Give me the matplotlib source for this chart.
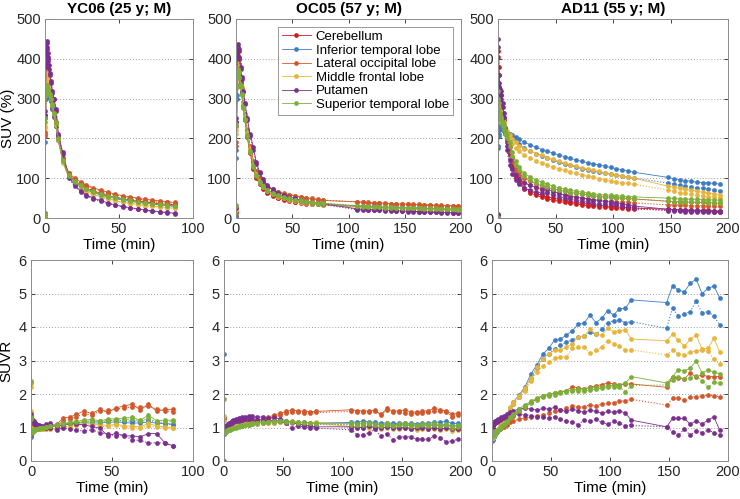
import matplotlib
matplotlib.use("Agg")
import matplotlib.pyplot as plt

plt.rcParams['font.family'] = ['Liberation Sans', 'DejaVu Sans']
plt.rcParams['font.size'] = 10

# regions, colours (matlab-ish palette)
REGIONS = ["Cerebellum", "Inferior temporal lobe", "Lateral occipital lobe",
           "Middle frontal lobe", "Putamen", "Superior temporal lobe"]
COLORS = ["#D01A1A", "#3E7CC4", "#D4572A", "#E8B53A", "#7B2F8E", "#7DAE3A"]

TITLES = ["YC06 (25 y; M)", "OC05 (57 y; M)", "AD11 (55 y; M)"]

# ---------------- YC06 ----------------
T_YC = [0.1, 0.3, 0.6, 0.9, 1.2, 1.5, 1.8, 2.2, 2.7, 3.3, 4.0, 5.0, 6.0, 7.5, 9, 12, 16, 20, 24, 28,
        32.5, 37.5, 42.5, 47.5, 52.5, 57.5, 62.5, 67.5, 72.5, 77.5, 82.5, 87.5]

SUV_YC = {
    "Cerebellum": (
        [6, 250, 340, 365, 355, 345, 335, 325, 315, 305, 295, 275, 255, 230, 195, 145, 108, 92, 82, 74, 67, 61, 56, 52, 48, 45, 42, 40, 38, 36, 34, 33],
        [8, 260, 350, 370, 360, 348, 338, 328, 318, 308, 298, 278, 258, 232, 197, 147, 110, 94, 84, 76, 69, 63, 58, 53, 50, 47, 44, 41, 39, 37, 35, 34]),
    "Inferior temporal lobe": (
        [4, 190, 300, 340, 345, 338, 330, 322, 314, 305, 295, 276, 257, 232, 197, 146, 108, 90, 80, 71, 64, 58, 53, 49, 45, 42, 39, 37, 35, 33, 31, 30],
        [5, 210, 310, 345, 348, 340, 332, 324, 315, 306, 296, 277, 258, 233, 198, 147, 109, 91, 81, 72, 65, 59, 54, 50, 46, 43, 40, 38, 36, 34, 32, 31]),
    "Lateral occipital lobe": (
        [5, 205, 320, 360, 365, 355, 345, 335, 325, 315, 303, 284, 265, 240, 205, 152, 114, 100, 91, 83, 76, 70, 65, 60, 56, 53, 50, 47, 45, 43, 41, 39],
        [6, 215, 330, 365, 368, 358, 348, 338, 328, 318, 306, 286, 267, 242, 207, 150, 112, 98, 89, 81, 74, 68, 63, 58, 54, 51, 48, 45, 43, 41, 39, 37]),
    "Middle frontal lobe": (
        [7, 225, 345, 375, 380, 368, 355, 342, 330, 318, 305, 285, 263, 236, 198, 140, 104, 88, 77, 68, 60, 54, 49, 44, 40, 37, 34, 32, 30, 28, 26, 25],
        [8, 230, 350, 380, 378, 366, 353, 340, 328, 316, 303, 283, 261, 234, 196, 138, 102, 86, 75, 66, 58, 52, 47, 43, 39, 36, 33, 31, 29, 27, 25, 24]),
    "Putamen": (
        [10, 260, 380, 420, 445, 430, 415, 400, 385, 365, 345, 320, 300, 275, 210, 165, 105, 82, 68, 58, 50, 44, 38, 33, 29, 26, 23, 20, 18, 16, 14, 12],
        [12, 270, 390, 410, 440, 425, 405, 395, 375, 360, 340, 315, 300, 270, 205, 160, 100, 80, 66, 56, 48, 42, 36, 32, 28, 25, 22, 19, 17, 15, 13, 11]),
    "Superior temporal lobe": (
        [10, 240, 310, 330, 335, 330, 325, 320, 315, 312, 300, 285, 265, 240, 200, 145, 108, 92, 82, 74, 67, 61, 56, 52, 48, 44, 41, 38, 36, 34, 32, 30],
        [11, 250, 320, 335, 332, 328, 323, 318, 313, 310, 298, 282, 262, 238, 198, 143, 106, 90, 80, 72, 65, 59, 54, 50, 46, 43, 40, 37, 35, 33, 31, 29]),
}

SUVR_YC = {
    "Inferior temporal lobe": (
        [0.72, 0.76, 0.88, 0.93, 0.97, 0.98, 0.99, 0.99, 1.0, 1.0, 1.0, 1.0, 1.01, 1.01, 1.01, 1.02, 1.05, 1.08, 1.10, 1.12, 1.15, 1.13, 1.14, 1.15, 1.17, 1.15, 1.13, 1.14, 1.16, 1.13, 1.12, 1.10],
        [0.78, 0.80, 0.89, 0.94, 0.96, 0.97, 0.98, 0.99, 0.99, 1.0, 1.0, 1.0, 1.0, 1.01, 1.02, 1.03, 1.06, 1.09, 1.12, 1.14, 1.17, 1.20, 1.18, 1.21, 1.22, 1.19, 1.20, 1.18, 1.22, 1.17, 1.10, 1.08]),
    "Lateral occipital lobe": (
        [0.85, 0.82, 0.94, 0.98, 1.02, 1.03, 1.03, 1.03, 1.03, 1.03, 1.03, 1.03, 1.04, 1.04, 1.05, 1.04, 1.10, 1.29, 1.31, 1.39, 1.49, 1.42, 1.54, 1.45, 1.59, 1.64, 1.70, 1.52, 1.70, 1.48, 1.54, 1.54],
        [0.88, 0.84, 0.95, 0.99, 1.01, 1.02, 1.02, 1.02, 1.02, 1.02, 1.02, 1.02, 1.03, 1.03, 1.04, 1.03, 1.06, 1.20, 1.25, 1.32, 1.40, 1.38, 1.48, 1.52, 1.55, 1.58, 1.62, 1.60, 1.64, 1.55, 1.50, 1.47]),
    "Middle frontal lobe": (
        [2.2, 1.45, 1.05, 1.0, 1.0, 1.0, 0.99, 0.99, 0.98, 0.98, 0.98, 0.98, 0.97, 0.97, 0.97, 0.96, 0.98, 1.02, 1.05, 1.08, 1.12, 1.10, 1.08, 1.06, 1.10, 1.05, 1.04, 1.02, 1.12, 1.05, 1.02, 1.00],
        [2.3, 1.5, 1.08, 1.01, 1.0, 0.99, 0.99, 0.98, 0.98, 0.97, 0.97, 0.97, 0.96, 0.96, 0.96, 0.95, 0.97, 1.00, 1.03, 1.06, 1.09, 1.07, 1.04, 1.03, 1.06, 1.01, 1.00, 0.99, 1.05, 1.01, 0.99, 0.98]),
    "Putamen": (
        [1.40, 1.32, 1.25, 1.18, 1.20, 1.15, 1.18, 1.14, 1.12, 1.10, 1.08, 1.06, 1.05, 1.02, 1.10, 1.12, 1.02, 1.08, 1.12, 1.10, 1.08, 1.03, 0.98, 0.75, 0.83, 0.75, 0.75, 0.72, 0.82, 0.82, 0.55, 0.45],
        [1.35, 1.30, 1.20, 1.15, 1.12, 1.18, 1.10, 1.12, 1.08, 1.06, 1.05, 1.03, 1.02, 1.00, 1.00, 0.98, 0.92, 1.00, 0.95, 0.92, 0.90, 0.93, 0.85, 0.80, 0.75, 0.78, 0.62, 0.62, 0.53, 0.55, 0.53, 0.45]),
    "Superior temporal lobe": (
        [2.4, 1.3, 0.90, 0.88, 0.90, 0.92, 0.93, 0.94, 0.95, 0.96, 0.97, 0.98, 0.99, 1.0, 1.02, 1.04, 1.08, 1.12, 1.15, 1.18, 1.22, 1.24, 1.20, 1.25, 1.26, 1.28, 1.30, 1.22, 1.37, 1.20, 1.22, 1.22],
        [2.35, 1.25, 0.88, 0.86, 0.88, 0.90, 0.92, 0.93, 0.94, 0.95, 0.96, 0.97, 0.98, 0.99, 1.01, 1.03, 1.06, 1.10, 1.12, 1.15, 1.18, 1.20, 1.17, 1.20, 1.22, 1.23, 1.25, 1.18, 1.28, 1.15, 1.16, 1.18]),
}

# ---------------- OC05 ----------------
T_OC = [0.1, 0.4, 0.8, 1.2, 1.7, 2.3, 3.0, 4.0, 5.0, 6.5, 8, 10, 12.5, 15.5, 18, 21, 24, 27.5,
        32.5, 37.5, 42.5, 47.5, 52.5, 57.5, 62.5, 67.5, 72.5, 77.5,
        107.5, 112.5, 117.5, 122.5, 127.5, 132.5, 137.5, 142.5, 147.5, 152.5, 157.5, 162.5,
        167.5, 172.5, 177.5, 182.5, 187.5, 192.5, 197.5]

SUV_OC = {
    "Cerebellum": (
        [15, 230, 350, 390, 400, 388, 372, 345, 318, 280, 248, 205, 165, 126, 103, 87, 75, 66, 57, 51, 47, 44, 41, 39, 37, 36, 35, 34, 29, 28, 28, 27, 27, 26, 26, 25, 25, 24, 24, 23, 23, 23, 22, 22, 21, 21, 20],
        [18, 240, 355, 392, 398, 385, 368, 342, 315, 278, 246, 203, 163, 124, 101, 85, 73, 64, 55, 49, 45, 42, 40, 38, 36, 35, 34, 33, 28, 27, 27, 26, 26, 25, 25, 24, 24, 23, 23, 22, 22, 22, 21, 21, 20, 20, 19]),
    "Inferior temporal lobe": (
        [5, 150, 300, 360, 380, 375, 362, 340, 318, 284, 254, 214, 174, 134, 111, 94, 82, 72, 63, 57, 52, 48, 45, 42, 40, 38, 36, 35, 30, 29, 29, 28, 28, 27, 27, 26, 26, 25, 25, 24, 24, 24, 23, 23, 22, 22, 22],
        [6, 170, 310, 365, 383, 378, 364, 342, 320, 286, 256, 216, 176, 136, 113, 96, 84, 74, 65, 59, 54, 50, 47, 44, 42, 40, 38, 37, 31, 30, 30, 29, 29, 28, 28, 27, 27, 26, 26, 25, 25, 25, 24, 24, 23, 23, 23]),
    "Lateral occipital lobe": (
        [12, 180, 330, 380, 392, 385, 370, 348, 325, 290, 260, 220, 180, 140, 117, 100, 88, 79, 71, 65, 61, 58, 55, 52, 50, 48, 46, 44, 41, 40, 39, 38, 38, 37, 36, 36, 35, 35, 34, 34, 33, 33, 32, 32, 31, 31, 30],
        [14, 190, 335, 383, 395, 387, 372, 350, 327, 292, 262, 222, 182, 142, 118, 101, 89, 80, 72, 66, 62, 59, 56, 53, 51, 49, 47, 45, 40, 39, 38, 37, 37, 36, 35, 35, 34, 34, 33, 33, 32, 32, 31, 31, 30, 30, 29]),
    "Middle frontal lobe": (
        [20, 210, 350, 395, 410, 400, 382, 355, 328, 290, 258, 216, 175, 134, 110, 93, 81, 71, 62, 56, 51, 47, 44, 41, 39, 37, 35, 34, 28, 27, 27, 26, 26, 25, 25, 24, 24, 23, 23, 22, 22, 22, 21, 21, 20, 20, 20],
        [22, 220, 355, 398, 408, 398, 380, 352, 325, 288, 256, 214, 173, 132, 108, 91, 79, 69, 60, 54, 49, 45, 42, 40, 38, 36, 34, 33, 27, 26, 26, 25, 25, 24, 24, 23, 23, 22, 22, 21, 21, 21, 20, 20, 19, 19, 19]),
    "Putamen": (
        [25, 240, 370, 415, 438, 425, 405, 380, 355, 320, 290, 250, 210, 178, 140, 115, 97, 84, 72, 64, 58, 53, 49, 45, 42, 40, 38, 36, 23, 22, 21, 21, 20, 20, 19, 18, 18, 17, 17, 16, 16, 15, 15, 14, 14, 13, 13],
        [28, 250, 375, 410, 430, 420, 400, 375, 350, 316, 286, 246, 205, 172, 136, 112, 94, 81, 69, 61, 55, 50, 46, 43, 40, 38, 36, 34, 21, 20, 20, 19, 19, 18, 18, 17, 17, 16, 16, 15, 15, 14, 14, 13, 13, 12, 12]),
    "Superior temporal lobe": (
        [30, 230, 330, 365, 375, 368, 355, 335, 312, 278, 248, 208, 168, 130, 107, 91, 80, 71, 63, 57, 53, 49, 46, 44, 42, 40, 38, 37, 30, 29, 29, 28, 28, 27, 27, 26, 26, 25, 25, 25, 24, 24, 24, 23, 23, 23, 22],
        [32, 235, 335, 368, 373, 366, 352, 332, 310, 276, 246, 206, 166, 128, 105, 89, 78, 69, 61, 55, 51, 47, 44, 42, 40, 38, 36, 35, 29, 28, 28, 27, 27, 26, 26, 25, 25, 24, 24, 24, 23, 23, 23, 22, 22, 22, 21]),
}

SUVR_OC = {
    "Inferior temporal lobe": (
        [3.2, 0.8, 0.86, 0.90, 0.93, 0.95, 0.96, 0.97, 0.98, 0.99, 1.0, 1.02, 1.04, 1.06, 1.08, 1.10, 1.12, 1.13, 1.15, 1.16, 1.17, 1.18, 1.18, 1.17, 1.16, 1.15, 1.14, 1.13, 1.15, 1.16, 1.18, 1.17, 1.15, 1.12, 1.14, 1.12, 1.12, 1.13, 1.12, 1.11, 1.12, 1.13, 1.15, 1.16, 1.18, 1.12, 1.12],
        [1.3, 0.82, 0.87, 0.91, 0.93, 0.95, 0.96, 0.97, 0.98, 0.99, 1.0, 1.01, 1.03, 1.05, 1.07, 1.08, 1.10, 1.11, 1.12, 1.13, 1.14, 1.15, 1.15, 1.14, 1.13, 1.12, 1.11, 1.10, 1.08, 1.10, 1.09, 1.08, 1.10, 1.07, 1.08, 1.06, 1.07, 1.08, 1.06, 1.05, 1.07, 1.06, 1.08, 1.05, 1.06, 1.04, 1.05]),
    "Lateral occipital lobe": (
        [1.3, 0.85, 0.9, 0.93, 0.95, 0.97, 0.98, 1.0, 1.01, 1.03, 1.05, 1.08, 1.10, 1.12, 1.15, 1.18, 1.20, 1.22, 1.25, 1.30, 1.38, 1.42, 1.48, 1.52, 1.50, 1.48, 1.47, 1.48, 1.53, 1.50, 1.50, 1.48, 1.52, 1.37, 1.58, 1.48, 1.50, 1.52, 1.47, 1.45, 1.48, 1.50, 1.58, 1.52, 1.50, 1.40, 1.42],
        [1.25, 0.88, 0.92, 0.94, 0.96, 0.97, 0.98, 0.99, 1.0, 1.02, 1.04, 1.06, 1.08, 1.10, 1.12, 1.14, 1.16, 1.18, 1.20, 1.25, 1.32, 1.38, 1.42, 1.45, 1.46, 1.44, 1.43, 1.45, 1.48, 1.46, 1.47, 1.45, 1.48, 1.40, 1.52, 1.45, 1.46, 1.42, 1.40, 1.42, 1.44, 1.45, 1.50, 1.48, 1.45, 1.32, 1.36]),
    "Middle frontal lobe": (
        [1.35, 0.9, 0.92, 0.94, 0.95, 0.96, 0.97, 0.98, 0.99, 1.0, 1.02, 1.05, 1.07, 1.08, 1.10, 1.11, 1.12, 1.13, 1.14, 1.15, 1.16, 1.18, 1.17, 1.16, 1.15, 1.14, 1.13, 1.15, 1.02, 1.03, 1.05, 1.02, 1.04, 1.0, 1.02, 0.98, 1.0, 1.02, 0.98, 0.97, 1.0, 0.98, 1.0, 0.97, 0.98, 0.92, 0.95],
        [1.2, 0.88, 0.90, 0.92, 0.94, 0.95, 0.96, 0.97, 0.98, 0.99, 1.0, 1.02, 1.04, 1.06, 1.08, 1.09, 1.10, 1.11, 1.12, 1.13, 1.14, 1.15, 1.14, 1.13, 1.12, 1.11, 1.10, 1.12, 0.98, 0.99, 1.0, 0.98, 1.0, 0.96, 0.98, 0.95, 0.97, 0.98, 0.95, 0.94, 0.96, 0.95, 0.97, 0.94, 0.95, 0.90, 0.92]),
    "Putamen": (
        [0.0, 1.05, 1.0, 1.02, 1.05, 1.08, 1.10, 1.12, 1.14, 1.18, 1.22, 1.25, 1.28, 1.30, 1.32, 1.34, 1.33, 1.30, 1.32, 1.28, 1.30, 1.25, 1.20, 1.15, 1.10, 1.08, 1.05, 1.02, 1.02, 1.0, 1.0, 1.03, 1.0, 0.98, 1.02, 1.0, 0.98, 1.0, 0.97, 0.98, 1.0, 0.97, 0.99, 0.96, 0.98, 0.95, 0.96],
        [0.9, 1.0, 0.98, 1.0, 1.02, 1.04, 1.06, 1.08, 1.10, 1.12, 1.15, 1.18, 1.20, 1.22, 1.24, 1.25, 1.24, 1.22, 1.23, 1.20, 1.22, 1.18, 1.12, 0.98, 1.05, 1.02, 1.0, 0.98, 0.93, 0.78, 0.78, 0.85, 0.95, 0.74, 0.82, 0.63, 0.72, 0.72, 0.72, 0.65, 0.65, 0.65, 0.75, 0.70, 0.57, 0.60, 0.65]),
    "Superior temporal lobe": (
        [1.85, 0.85, 0.86, 0.88, 0.90, 0.92, 0.94, 0.95, 0.96, 0.98, 1.0, 1.02, 1.04, 1.06, 1.08, 1.10, 1.12, 1.14, 1.15, 1.17, 1.18, 1.20, 1.19, 1.18, 1.16, 1.15, 1.14, 1.13, 1.12, 1.10, 1.12, 1.14, 1.10, 1.08, 1.12, 1.08, 1.10, 1.12, 1.09, 1.08, 1.10, 1.09, 1.12, 1.08, 1.10, 1.05, 1.06],
        [8.0, 0.82, 0.84, 0.86, 0.88, 0.90, 0.92, 0.93, 0.94, 0.96, 0.98, 1.0, 1.02, 1.04, 1.06, 1.08, 1.10, 1.12, 1.13, 1.15, 1.16, 1.18, 1.17, 1.16, 1.14, 1.13, 1.12, 1.11, 1.08, 1.06, 1.08, 1.10, 1.06, 1.04, 1.08, 1.04, 1.06, 1.08, 1.05, 1.04, 1.06, 1.05, 1.08, 1.04, 1.06, 1.0, 1.02]),
}

# ---------------- AD11 ----------------
T_AD = [0.1, 0.4, 0.8, 1.2, 1.7, 2.3, 3.0, 4.0, 5.0, 6.5, 8, 10, 12.5, 15.5, 18, 23, 28, 33, 38,
        43, 48, 53, 58, 63, 68, 73, 78, 83, 88, 93, 98, 103, 108, 113, 118,
        148, 153, 158, 163, 168, 173, 178, 183, 188, 193]

SUV_AD = {
    "Cerebellum": (
        [5, 420, 380, 330, 300, 290, 280, 265, 250, 225, 195, 165, 130, 105, 92, 76, 68, 62, 57, 53, 50, 47, 44, 41, 39, 37, 35, 33, 32, 30, 29, 28, 27, 26, 25, 22, 21, 21, 20, 20, 19, 19, 19, 18, 18],
        [6, 405, 360, 320, 295, 285, 275, 260, 245, 220, 190, 160, 125, 100, 88, 72, 63, 57, 52, 48, 45, 42, 39, 37, 35, 33, 31, 30, 28, 27, 26, 25, 24, 23, 22, 20, 19, 19, 18, 18, 17, 17, 17, 16, 16]),
    "Inferior temporal lobe": (
        [3, 180, 210, 225, 232, 230, 228, 225, 222, 218, 215, 212, 208, 203, 198, 190, 184, 178, 172, 168, 163, 158, 154, 150, 146, 142, 139, 136, 133, 130, 127, 124, 121, 118, 115, 102, 99, 96, 94, 92, 90, 89, 88, 87, 85],
        [4, 175, 205, 220, 228, 226, 224, 221, 218, 214, 210, 206, 200, 193, 186, 176, 168, 161, 155, 150, 145, 140, 136, 132, 128, 124, 121, 118, 115, 112, 110, 107, 105, 102, 100, 88, 85, 82, 80, 78, 76, 75, 73, 71, 69]),
    "Lateral occipital lobe": (
        [5, 300, 290, 280, 270, 262, 255, 245, 235, 220, 200, 178, 150, 128, 115, 100, 92, 86, 81, 77, 73, 70, 67, 64, 62, 60, 58, 56, 54, 53, 52, 51, 50, 49, 48, 42, 41, 41, 40, 40, 39, 39, 38, 38, 37],
        [6, 290, 280, 270, 262, 255, 248, 238, 228, 212, 192, 168, 140, 118, 105, 90, 82, 76, 71, 67, 63, 60, 57, 54, 52, 50, 48, 46, 44, 43, 42, 41, 40, 39, 38, 33, 33, 32, 32, 31, 31, 31, 30, 30, 30]),
    "Middle frontal lobe": (
        [4, 250, 270, 280, 275, 268, 260, 250, 240, 228, 218, 208, 198, 190, 182, 174, 168, 162, 158, 152, 147, 142, 138, 134, 130, 126, 123, 120, 117, 114, 111, 108, 105, 102, 100, 80, 77, 75, 72, 70, 67, 65, 63, 61, 59],
        [5, 245, 262, 272, 268, 262, 254, 244, 234, 222, 210, 198, 185, 175, 168, 158, 150, 144, 138, 133, 128, 124, 120, 116, 112, 108, 105, 102, 99, 96, 94, 91, 89, 87, 85, 70, 67, 64, 62, 60, 58, 56, 54, 52, 50]),
    "Putamen": (
        [8, 450, 360, 330, 325, 320, 310, 290, 265, 225, 180, 145, 122, 108, 98, 88, 82, 77, 74, 72, 67, 62, 58, 55, 52, 50, 48, 46, 44, 42, 40, 38, 36, 33, 30, 22, 21, 20, 20, 19, 19, 18, 18, 17, 17],
        [10, 430, 340, 320, 315, 310, 300, 280, 255, 215, 170, 132, 110, 96, 86, 76, 70, 66, 63, 62, 58, 54, 50, 47, 45, 42, 40, 38, 36, 35, 34, 32, 30, 28, 26, 18, 17, 17, 16, 16, 15, 15, 15, 14, 14]),
    "Superior temporal lobe": (
        [0, 320, 290, 275, 265, 255, 248, 240, 232, 222, 210, 192, 165, 142, 128, 112, 103, 96, 90, 85, 80, 76, 73, 70, 67, 65, 63, 61, 59, 58, 57, 56, 55, 54, 53, 50, 49, 48, 48, 47, 47, 46, 46, 45, 45],
        [0, 300, 275, 262, 252, 245, 238, 230, 222, 212, 200, 182, 155, 134, 120, 105, 96, 89, 83, 78, 74, 70, 67, 64, 62, 60, 58, 56, 54, 53, 52, 51, 50, 49, 48, 42, 41, 41, 40, 40, 39, 39, 38, 38, 37]),
}

SUVR_AD = {
    "Inferior temporal lobe": (
        [0.95, 0.62, 0.65, 0.70, 0.75, 0.80, 0.85, 0.90, 0.95, 1.02, 1.10, 1.22, 1.38, 1.58, 1.76, 1.97, 2.22, 2.60, 2.87, 3.19, 3.36, 3.61, 3.64, 3.76, 3.89, 4.08, 4.11, 4.36, 4.13, 4.26, 4.49, 4.36, 4.54, 4.56, 4.81, 4.73, 5.23, 5.10, 5.05, 5.30, 5.43, 5.00, 5.15, 5.22, 4.87],
        [0.90, 0.60, 0.63, 0.68, 0.73, 0.78, 0.83, 0.88, 0.93, 1.0, 1.08, 1.18, 1.33, 1.52, 1.70, 1.92, 2.15, 2.48, 2.78, 3.05, 3.20, 3.35, 3.45, 3.55, 3.62, 3.70, 3.72, 3.85, 3.78, 3.95, 4.13, 4.19, 4.21, 4.13, 4.16, 3.96, 4.56, 4.33, 4.39, 4.46, 4.78, 4.42, 4.46, 4.33, 4.06]),
    "Lateral occipital lobe": (
        [0.85, 0.80, 0.82, 0.84, 0.86, 0.88, 0.90, 0.92, 0.94, 0.98, 1.02, 1.08, 1.15, 1.25, 1.35, 1.50, 1.62, 1.75, 1.85, 1.95, 1.98, 2.02, 2.05, 2.10, 2.22, 2.18, 2.15, 2.20, 2.25, 2.28, 2.33, 2.30, 2.27, 2.30, 2.30, 2.20, 2.52, 2.47, 2.45, 2.63, 2.50, 2.58, 2.52, 2.52, 2.52],
        [0.82, 0.78, 0.80, 0.82, 0.84, 0.86, 0.88, 0.90, 0.92, 0.95, 0.98, 1.02, 1.08, 1.15, 1.20, 1.25, 1.28, 1.32, 1.35, 1.37, 1.42, 1.48, 1.52, 1.58, 1.65, 1.60, 1.62, 1.68, 1.65, 1.70, 1.72, 1.74, 1.78, 1.80, 1.84, 1.67, 1.87, 1.87, 1.82, 1.92, 1.92, 1.94, 1.97, 1.94, 1.92]),
    "Middle frontal lobe": (
        [0.92, 0.70, 0.72, 0.76, 0.80, 0.84, 0.88, 0.92, 0.96, 1.03, 1.12, 1.25, 1.40, 1.60, 1.75, 1.95, 2.18, 2.48, 2.80, 3.05, 3.20, 3.31, 3.31, 3.41, 3.49, 3.71, 3.73, 3.93, 3.78, 3.76, 3.96, 3.86, 3.89, 3.91, 3.64, 3.59, 3.78, 3.61, 3.43, 3.63, 3.76, 3.34, 3.36, 3.66, 3.26],
        [0.88, 0.68, 0.70, 0.74, 0.78, 0.82, 0.86, 0.90, 0.94, 1.0, 1.08, 1.20, 1.35, 1.55, 1.70, 1.90, 2.10, 2.40, 2.65, 2.85, 2.95, 3.06, 3.11, 3.11, 3.36, 3.39, 3.39, 3.22, 3.30, 3.40, 3.59, 3.49, 3.43, 3.31, 3.31, 3.17, 3.31, 3.20, 3.17, 3.25, 3.29, 3.31, 3.28, 3.03, 2.90]),
    "Putamen": (
        [1.10, 1.05, 1.08, 1.12, 1.15, 1.18, 1.20, 1.22, 1.24, 1.26, 1.30, 1.35, 1.40, 1.45, 1.50, 1.55, 1.57, 1.55, 1.52, 1.57, 1.55, 1.60, 1.52, 1.48, 1.55, 1.50, 1.45, 1.52, 1.48, 1.42, 1.48, 1.45, 1.50, 1.43, 1.22, 1.02, 1.27, 1.27, 1.27, 1.10, 1.20, 1.10, 1.22, 1.32, 0.92],
        [1.05, 1.00, 1.03, 1.06, 1.10, 1.12, 1.15, 1.17, 1.19, 1.21, 1.24, 1.28, 1.32, 1.36, 1.38, 1.40, 1.38, 1.35, 1.32, 1.30, 1.28, 1.32, 1.25, 1.20, 1.15, 1.08, 1.22, 1.18, 1.25, 1.15, 1.10, 1.18, 1.12, 1.05, 1.06, 1.02, 0.87, 0.77, 0.95, 0.77, 0.90, 0.85, 0.92, 0.85, 0.77]),
    "Superior temporal lobe": (
        [0.90, 0.75, 0.78, 0.80, 0.83, 0.86, 0.88, 0.91, 0.94, 0.98, 1.03, 1.10, 1.18, 1.30, 1.40, 1.55, 1.68, 1.78, 1.88, 1.95, 2.00, 2.03, 2.07, 2.10, 2.12, 2.15, 2.14, 2.18, 2.20, 2.22, 2.25, 2.26, 2.28, 2.32, 2.52, 2.33, 2.52, 2.73, 2.69, 2.77, 2.99, 2.63, 2.72, 2.65, 2.61],
        [0.86, 0.72, 0.75, 0.78, 0.81, 0.84, 0.86, 0.89, 0.92, 0.96, 1.01, 1.07, 1.15, 1.27, 1.36, 1.50, 1.62, 1.72, 1.82, 1.90, 1.95, 1.98, 2.02, 2.05, 2.08, 2.10, 2.08, 2.12, 2.15, 2.18, 2.20, 2.22, 2.20, 2.07, 2.25, 2.27, 2.42, 2.50, 2.45, 2.48, 2.55, 2.40, 2.20, 2.35, 2.32]),
}

SUBJECTS = [(T_YC, SUV_YC, SUVR_YC, 100),
            (T_OC, SUV_OC, SUVR_OC, 200),
            (T_AD, SUV_AD, SUVR_AD, 200)]

W, H = 740, 499
# axes boxes in pixels (left, top, right, bottom)
TOP_BOXES = [(45, 19, 193, 218), (236, 19, 461, 218), (498, 19, 728, 218)]
BOT_BOXES = [(31, 260, 193, 461), (224, 260, 461, 461), (492, 260, 728, 461)]


def px_axes(fig, box):
    l, t, r, b = box
    return fig.add_axes([l / W, 1 - b / H, (r - l) / W, (b - t) / H])


def style_axes(ax, xmax, ymax, ystep):
    ax.set_xlim(0, xmax)
    ax.set_ylim(0, ymax)
    ax.set_xticks(range(0, xmax + 1, 50))
    ax.set_yticks(range(0, ymax + 1, ystep))
    ax.tick_params(direction='in', top=True, right=True, length=3, width=0.6,
                   colors='#262626', labelsize=10.5, pad=3)
    for s in ax.spines.values():
        s.set_color('#8c8c8c')
        s.set_linewidth(0.7)
    ax.yaxis.grid(True, linestyle=(0, (1, 2)), color='#a0a0a0', linewidth=0.7)
    ax.set_axisbelow(True)
    ax.set_xlabel("Time (min)", fontsize=11, labelpad=1)


def draw_series(ax, t, data):
    for name, col in zip(REGIONS, COLORS):
        if name not in data:
            continue
        left, right = data[name]
        ax.plot(t, left, '-', color=col, lw=0.6, marker='o', ms=3.4, mec='none', label=name)
        ax.plot(t, right, ':', color=col, lw=0.8, marker='o', ms=3.4, mec='none')


fig = plt.figure(figsize=(W / 100, H / 100), dpi=100)

for i, (t, suv, suvr, xmax) in enumerate(SUBJECTS):
    ax = px_axes(fig, TOP_BOXES[i])
    draw_series(ax, t, suv)
    style_axes(ax, xmax, 500, 100)
    ax.set_title(TITLES[i], fontsize=11, fontweight='bold', pad=4)
    if i == 0:
        ax.set_ylabel("SUV (%)", fontsize=11, labelpad=1)
    if i == 1:
        leg = ax.legend(loc='upper right', fontsize=9.5, frameon=True, fancybox=False,
                        borderpad=0.3, labelspacing=0.1, handlelength=2.2,
                        handletextpad=0.4, borderaxespad=0.6)
        leg.get_frame().set_edgecolor('#7f7f7f')
        leg.get_frame().set_linewidth(0.7)

    ax = px_axes(fig, BOT_BOXES[i])
    draw_series(ax, t, suvr)
    style_axes(ax, xmax, 6, 1)
    if i == 0:
        ax.set_ylabel("SUVR", fontsize=11, labelpad=4)

fig.savefig("out.png", dpi=100)
